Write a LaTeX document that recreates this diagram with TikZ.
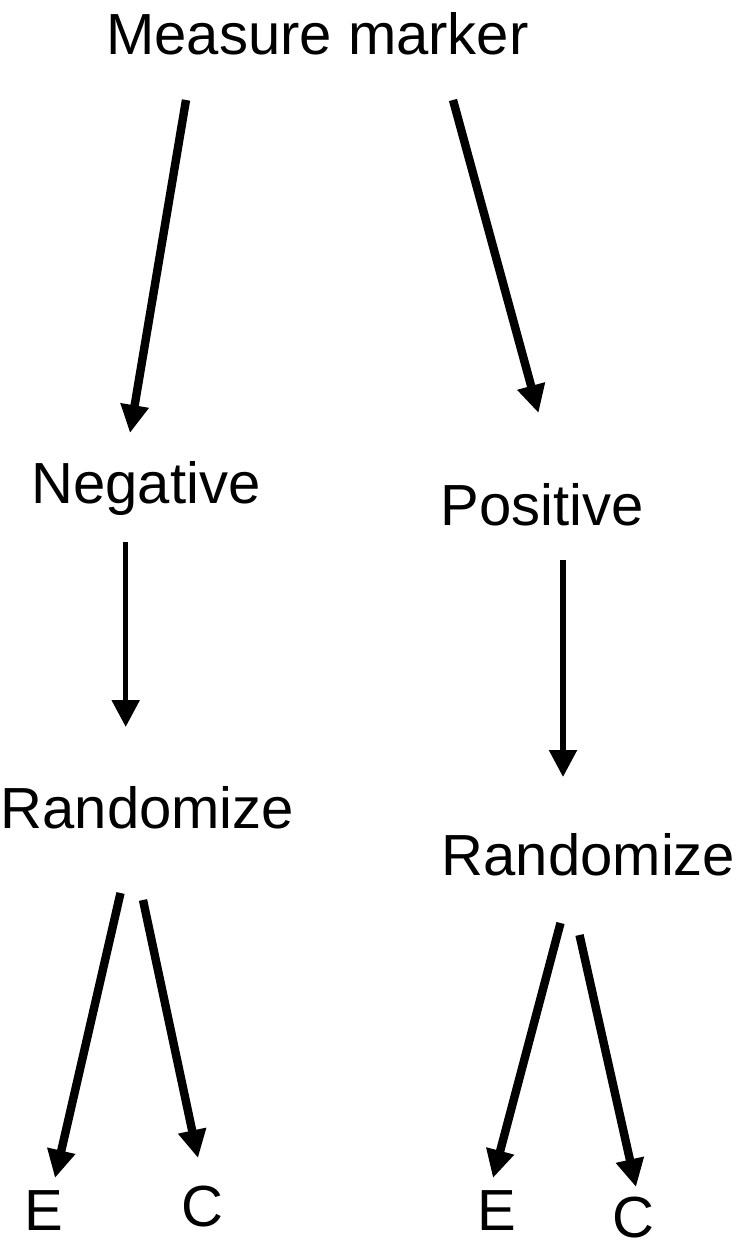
\documentclass[tikz,border=0pt]{standalone}
\usepackage{fontspec}
\setmainfont{Liberation Sans}
\usetikzlibrary{arrows.meta,calc}

\begin{document}
\begin{tikzpicture}[x=0.5pt, y=-0.5pt]
    % Styles
    \tikzstyle{word} = [inner sep=0pt, anchor=base, font=\fontsize{29pt}{34pt}\selectfont]
    \tikzstyle{fatarrow} = [line width=4.2pt, -{Triangle[length=14pt, width=13.5pt]}]
    \tikzstyle{thinarrow} = [line width=2.7pt, -{Triangle[length=13.5pt, width=13.5pt]}]

    \useasboundingbox (0,0) rectangle (750,1257);

    % Nodes
    \node [word] (marker) at (317.5,55) {Measure marker};
    \node [word] (neg) at (146,503) {Negative};
    \node [word] (pos) at (542.5,525) {Positive};
    \node [word] (randneg) at (147.5,828) {Randomize};
    \node [word] (randpos) at (588.5,875) {Randomize};
    \node [word] (eneg) at (43.5,1230) {E};
    \node [word] (cneg) at (202.5,1226) {C};
    \node [word] (epos) at (497,1230) {E};
    \node [word] (cpos) at (633.5,1237) {C};

    % Arrows
    \draw [fatarrow] ($(marker.base)+(-131.5,45)$) -- ($(neg.base)+(-16,-70)$);
    \draw [fatarrow] ($(marker.base)+(135.5,45)$) -- ($(pos.base)+(-4,-112)$);
    \draw [thinarrow] ($(neg.base)+(-20.3,39)$) -- ($(randneg.base)+(-21.8,-101)$);
    \draw [thinarrow] ($(pos.base)+(20.5,35)$) -- ($(randpos.base)+(-25.5,-98)$);
    \draw [fatarrow] ($(randneg.base)+(-27,65)$) -- ($(eneg.base)+(11.5,-52)$);
    \draw [fatarrow] ($(randneg.base)+(-4.5,72)$) -- ($(cneg.base)+(-4.5,-68)$);
    \draw [fatarrow] ($(randpos.base)+(-28,48)$) -- ($(epos.base)+(-4,-52)$);
    \draw [fatarrow] ($(randpos.base)+(-9,60)$) -- ($(cpos.base)+(2.5,-50)$);
\end{tikzpicture}
\end{document}
